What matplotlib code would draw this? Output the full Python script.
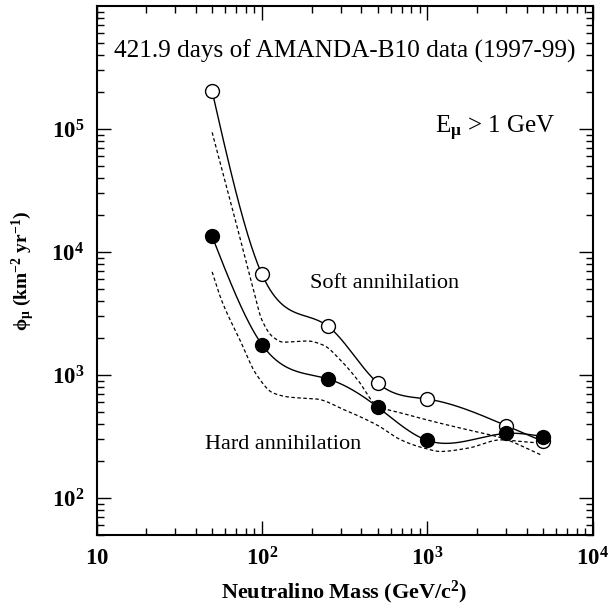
import numpy as np
import matplotlib

matplotlib.use("Agg")
import matplotlib.pyplot as plt
from matplotlib.ticker import FixedLocator, LogLocator, NullFormatter

# measured limits (markers)
mass = [50, 100, 250, 500, 1000, 3000, 5000]
soft_flux = [2.03e5, 6.6e3, 2.5e3, 865, 637, 387, 289]
hard_flux = [1.34e4, 1.77e3, 930, 550, 294, 335, 316]

# dashed curves
upper_dash_mass = [50, 67.5, 89, 100, 117, 135, 189, 235, 299, 380, 500, 700, 1100, 1760, 2790, 4875]
upper_dash_flux = [9.4e4, 2.05e4, 4.9e3, 2.8e3, 2030, 1850, 1890, 1750, 1320, 910, 560, 490, 417, 358, 309, 224]
lower_dash_mass = [50, 57, 74, 93, 117, 148, 216, 311, 500, 692, 912, 1205, 1757, 2786, 3690, 4875]
lower_dash_flux = [6.9e3, 4.06e3, 1.9e3, 1.0e3, 714, 660, 637, 525, 390, 297, 259, 239, 254, 297, 288, 279]

x_ticks = [10, 100, 1000, 10000]
x_labels = [r"$\mathbf{10}$", r"$\mathbf{10^2}$", r"$\mathbf{10^3}$", r"$\mathbf{10^4}$"]
y_ticks = [100, 1000, 10000, 100000]
y_labels = [r"$\mathbf{10^2}$", r"$\mathbf{10^3}$", r"$\mathbf{10^4}$", r"$\mathbf{10^5}$"]


def _spline(xs, ys, n=400):
    """Natural cubic spline through the points, in log-log space."""
    lx = np.log10(np.asarray(xs, dtype=float))
    ly = np.log10(np.asarray(ys, dtype=float))
    k = len(lx)
    h = np.diff(lx)
    a = np.zeros((k, k))
    b = np.zeros(k)
    a[0, 0] = a[-1, -1] = 1.0
    for i in range(1, k - 1):
        a[i, i - 1] = h[i - 1]
        a[i, i] = 2.0 * (h[i - 1] + h[i])
        a[i, i + 1] = h[i]
        b[i] = 6.0 * ((ly[i + 1] - ly[i]) / h[i] - (ly[i] - ly[i - 1]) / h[i - 1])
    m = np.linalg.solve(a, b)
    t = np.linspace(lx[0], lx[-1], n)
    idx = np.clip(np.searchsorted(lx, t) - 1, 0, k - 2)
    x0, x1 = lx[idx], lx[idx + 1]
    hh = x1 - x0
    out = (
        m[idx] * (x1 - t) ** 3 / (6 * hh)
        + m[idx + 1] * (t - x0) ** 3 / (6 * hh)
        + (ly[idx] / hh - m[idx] * hh / 6) * (x1 - t)
        + (ly[idx + 1] / hh - m[idx + 1] * hh / 6) * (t - x0)
    )
    return 10**t, 10**out


def _pchip(xs, ys, n=400):
    """Shape-preserving cubic through the points, in log-log space."""
    lx = np.log10(np.asarray(xs, dtype=float))
    ly = np.log10(np.asarray(ys, dtype=float))
    h = np.diff(lx)
    delta = np.diff(ly) / h
    d = np.zeros_like(ly)
    for i in range(1, len(lx) - 1):
        if delta[i - 1] * delta[i] > 0:
            w1 = 2 * h[i] + h[i - 1]
            w2 = h[i] + 2 * h[i - 1]
            d[i] = (w1 + w2) / (w1 / delta[i - 1] + w2 / delta[i])
    d[0] = delta[0]
    d[-1] = delta[-1]
    t = np.linspace(lx[0], lx[-1], n)
    idx = np.clip(np.searchsorted(lx, t) - 1, 0, len(lx) - 2)
    s = (t - lx[idx]) / h[idx]
    h00 = 2 * s**3 - 3 * s**2 + 1
    h10 = s**3 - 2 * s**2 + s
    h01 = -2 * s**3 + 3 * s**2
    h11 = s**3 - s**2
    out = h00 * ly[idx] + h10 * h[idx] * d[idx] + h01 * ly[idx + 1] + h11 * h[idx] * d[idx + 1]
    return 10**t, 10**out


plt.rcParams["font.family"] = ["Liberation Serif", "DejaVu Serif"]
plt.rcParams["mathtext.fontset"] = "custom"
plt.rcParams["mathtext.rm"] = "Liberation Serif"
plt.rcParams["mathtext.it"] = "Liberation Serif:italic"
plt.rcParams["mathtext.bf"] = "Liberation Serif:bold"

fig = plt.figure(figsize=(6.11, 6.09), dpi=100)
ax = fig.add_axes([0.158, 0.1215, 0.812, 0.8685])
ax.set_xscale("log")
ax.set_yscale("log")
ax.set_xlim(10, 1e4)
ax.set_ylim(50, 1e6)

dash = (0, (2.8, 2.0))
for xs, ys in ((upper_dash_mass, upper_dash_flux), (lower_dash_mass, lower_dash_flux)):
    sx, sy = _pchip(xs, ys)
    ax.plot(sx, sy, color="black", lw=0.9, linestyle=dash)

sx, sy = _spline(mass, soft_flux)
ax.plot(sx, sy, color="black", lw=1.0)
ax.plot(mass, soft_flux, "o", ms=10, mfc="white", mec="black", mew=1.0)

sx, sy = _spline(mass, hard_flux)
ax.plot(sx, sy, color="black", lw=1.0)
ax.plot(mass, hard_flux, "o", ms=10, mfc="black", mec="black")

ax.xaxis.set_major_locator(FixedLocator(x_ticks))
ax.set_xticklabels(x_labels)
ax.yaxis.set_major_locator(FixedLocator(y_ticks))
ax.set_yticklabels(y_labels)
ax.xaxis.set_minor_locator(LogLocator(base=10, subs=np.arange(2, 10), numticks=20))
ax.yaxis.set_minor_locator(LogLocator(base=10, subs=np.arange(2, 10), numticks=20))
ax.xaxis.set_minor_formatter(NullFormatter())
ax.yaxis.set_minor_formatter(NullFormatter())
ax.tick_params(which="both", direction="in", top=True, right=True, width=1.0, labelsize=16.5)
ax.tick_params(which="major", length=10)
ax.tick_params(which="minor", length=5)
ax.tick_params(axis="x", pad=9)
ax.tick_params(axis="y", pad=9)
for s in ax.spines.values():
    s.set_linewidth(1.5)

ax.set_xlabel(r"$\mathbf{Neutralino\ Mass\ (GeV/c^2)}$", fontsize=16, labelpad=6)
ax.set_ylabel(r"$\mathbf{\phi_{\mu}\ (km^{-2}\ yr^{-1})}$", fontsize=14, labelpad=10)

ax.text(0.5, 0.915, "421.9 days of AMANDA-B10 data (1997-99)", transform=ax.transAxes,
        ha="center", va="center", fontsize=18.2)
ax.text(0.924, 0.769, r"E$_{\mathbf{\mu}}$ > 1 GeV", transform=ax.transAxes,
        ha="right", va="center", fontsize=18)
ax.text(0.43, 0.476, "Soft annihilation", transform=ax.transAxes,
        ha="left", va="center", fontsize=16)
ax.text(0.219, 0.172, "Hard annihilation", transform=ax.transAxes,
        ha="left", va="center", fontsize=16)

fig.savefig("out.png", dpi=100)
